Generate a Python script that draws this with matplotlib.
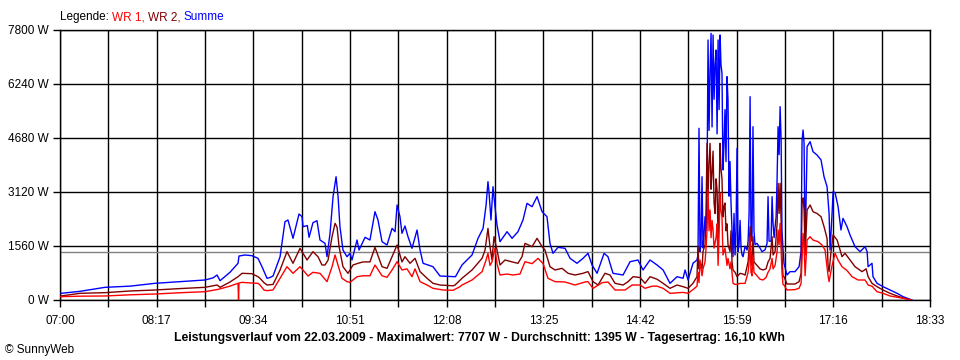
import matplotlib
matplotlib.use("Agg")
import matplotlib.pyplot as plt
import numpy as np

# Zeit in Minuten ab 07:00, Leistung in W
summe = [
    (0.8, 193), (15.9, 250), (35.8, 366), (55.8, 400), (75.7, 482), (95.6, 530),
    (115.5, 578), (122.0, 640), (125.1, 722), (127.5, 558), (135.4, 800), (141.8, 1060),
    (142.6, 1271), (147.4, 1300), (152.9, 1280), (157.7, 1204), (160.9, 962), (164.9, 627),
    (167.3, 650), (169.7, 693), (175.3, 1251), (179.2, 2262), (181.6, 2311), (185.6, 1782),
    (190.4, 2484), (192.8, 2407), (193.6, 2118), (197.0, 2150), (198.4, 1811), (201.5, 2233),
    (204.7, 2291), (207.1, 1733), (211.1, 1637), (212.7, 1251), (215.1, 1926), (217.5, 2985),
    (219.9, 3562), (221.5, 2985), (223.0, 2118), (225.4, 1444), (228.6, 1251), (231.0, 1349),
    (232.6, 1156), (236.6, 1733), (238.2, 1444), (243.0, 1811), (246.9, 1733), (250.9, 2551),
    (253.3, 2311), (256.5, 1685), (260.5, 1589), (264.5, 2070), (266.9, 1973), (268.5, 2745),
    (270.8, 2407), (272.4, 1926), (274.8, 2138), (277.2, 1829), (280.4, 1493), (284.4, 2022),
    (286.8, 1444), (289.2, 1060), (297.1, 962), (302.7, 693), (315.0, 673), (320.2, 1011),
    (328.2, 1300), (333.0, 1782), (337.0, 2070), (339.4, 2745), (340.9, 3418), (341.7, 3129),
    (343.3, 2311), (344.9, 3273), (346.5, 2696), (348.1, 2167), (350.5, 1685), (356.1, 1973),
    (360.1, 1782), (364.8, 1973), (368.8, 2311), (372.0, 2793), (376.0, 2696), (380.0, 2985),
    (384.0, 2551), (387.9, 2407), (390.3, 1637), (392.7, 1349), (396.7, 1522), (402.3, 1493),
    (406.3, 1204), (411.8, 1060), (416.6, 1204), (420.6, 1349), (423.8, 1011), (427.8, 771),
    (433.4, 1349), (436.5, 1251), (440.5, 771), (448.5, 722), (454.1, 1107), (460.4, 1156),
    (464.4, 867), (470.0, 1156), (475.6, 1011), (480.4, 867), (485.9, 482), (491.5, 673),
    (496.3, 627), (497.9, 867), (500.3, 578), (504.2, 1060), (507.4, 1156), (508.2, 1300),
    (509.0, 4960), (509.8, 1400), (510.6, 1600), (511.4, 3562), (512.2, 1500), (513.0, 1900),
    (513.8, 2407), (514.6, 2000), (515.4, 3273), (516.2, 7511), (517.0, 4900), (517.8, 6600),
    (518.6, 7704), (519.4, 5000), (520.2, 7656), (521.0, 5800), (521.8, 6800), (522.6, 7222),
    (523.4, 4800), (524.2, 7511), (525.0, 5500), (525.8, 7656), (526.5, 6800), (527.3, 6549),
    (528.1, 3756), (528.9, 4500), (529.7, 5500), (530.5, 4000), (531.3, 6452), (532.1, 5778),
    (532.9, 3000), (533.7, 4000), (534.5, 2793), (535.3, 2000), (536.1, 1251), (536.9, 2500),
    (537.7, 1300), (538.5, 2000), (539.3, 4382), (540.1, 1400), (540.9, 1600), (541.7, 2300),
    (542.5, 1500), (543.3, 1300), (544.1, 1251), (545.7, 1550), (547.3, 1444), (548.1, 1700),
    (548.9, 2500), (549.7, 5874), (550.4, 1800), (551.2, 1700), (552.0, 5007), (552.8, 2000),
    (553.6, 1600), (555.2, 1637), (557.6, 1500), (559.2, 1396), (561.6, 1450), (563.2, 1637),
    (564.0, 2985), (564.8, 1700), (566.4, 1700), (567.2, 2985), (568.0, 2200), (568.8, 1800),
    (570.4, 2400), (571.2, 3500), (572.0, 5007), (572.8, 4200), (573.6, 5585), (574.4, 4622),
    (575.1, 2000), (575.9, 1500), (576.7, 1060), (579.1, 722), (581.5, 819), (585.5, 819),
    (588.7, 962), (590.3, 1400), (591.1, 4622), (591.9, 4911), (592.7, 4526), (593.5, 1400),
    (595.1, 4430), (597.5, 4574), (599.8, 4285), (603.0, 4189), (606.2, 4045), (608.6, 3562),
    (611.0, 3273), (612.6, 2504), (613.4, 1444), (615.0, 2504), (615.8, 3129), (617.4, 3100),
    (619.8, 2696), (622.1, 2022), (623.7, 2360), (626.9, 2118), (629.3, 1878), (633.3, 1541),
    (637.3, 1396), (641.3, 1541), (642.9, 1396), (643.7, 962), (646.8, 1060), (647.6, 673),
    (650.8, 482), (655.6, 385), (661.2, 289), (666.8, 193), (671.5, 96), (677.1, 20),
    (678.7, 0),
]

wr2 = [
    (0.8, 116), (15.9, 193), (35.8, 212), (55.8, 260), (75.7, 289), (95.6, 330),
    (115.5, 366), (125.1, 433), (127.5, 366), (135.4, 520), (141.8, 673), (145.0, 771),
    (152.9, 760), (157.7, 673), (159.3, 627), (162.5, 500), (164.9, 433), (169.7, 450),
    (175.3, 867), (180.8, 1396), (185.6, 1060), (191.2, 1493), (196.8, 1156), (201.5, 1396),
    (205.5, 1250), (208.7, 1011), (211.1, 1011), (213.5, 1150), (216.7, 1829), (219.1, 2215),
    (220.7, 2100), (222.3, 1541), (225.4, 962), (229.4, 771), (233.4, 1011), (237.4, 1060),
    (241.4, 1100), (246.9, 1100), (250.9, 1522), (256.5, 962), (260.5, 915), (264.5, 1251),
    (268.5, 1589), (272.4, 1100), (274.8, 1250), (278.8, 1060), (282.8, 1204), (286.8, 819),
    (292.4, 627), (297.1, 482), (302.7, 433), (313.1, 410), (314.7, 433), (320.2, 627),
    (328.2, 867), (336.2, 1204), (338.6, 1444), (340.9, 2070), (342.5, 1540), (344.1, 1156),
    (345.7, 1829), (348.1, 1444), (350.5, 1011), (354.5, 1156), (360.1, 1100), (364.8, 1060),
    (368.0, 1250), (370.4, 1637), (376.0, 1540), (380.0, 1782), (384.0, 1540), (386.3, 1444),
    (390.3, 962), (394.3, 867), (399.9, 915), (404.7, 771), (410.2, 722), (416.6, 771),
    (420.6, 820), (424.6, 530), (428.6, 433), (434.1, 771), (438.1, 722), (442.1, 482),
    (448.5, 433), (452.5, 530), (456.5, 673), (462.0, 650), (466.0, 482), (470.0, 673),
    (475.6, 600), (480.4, 482), (485.9, 337), (491.5, 433), (496.3, 385), (500.3, 337),
    (504.2, 482), (507.4, 673), (508.2, 1541), (509.0, 900), (509.8, 1100), (511.4, 900),
    (512.2, 1400), (513.8, 1600), (514.6, 2500), (515.4, 4526), (516.2, 3000), (517.0, 4000),
    (517.8, 4526), (518.6, 3200), (519.4, 3700), (520.2, 4300), (521.0, 2800), (521.8, 2500),
    (522.6, 3500), (523.4, 3178), (524.2, 1800), (525.0, 3000), (525.8, 4526), (526.5, 3800),
    (527.3, 3500), (528.1, 2400), (528.9, 2700), (529.7, 2800), (530.5, 2000), (531.3, 2200),
    (532.1, 1600), (533.7, 1400), (534.5, 2000), (535.3, 1100), (536.1, 867), (537.7, 800),
    (539.3, 673), (541.7, 770), (544.1, 750), (545.7, 720), (548.1, 1100), (548.9, 1500),
    (549.7, 2118), (550.4, 1100), (551.2, 1000), (552.0, 1830), (552.8, 1100), (555.2, 1000),
    (557.6, 900), (560.0, 867), (562.4, 900), (564.0, 1100), (565.6, 1200), (567.2, 1829),
    (568.0, 1300), (569.6, 1400), (571.2, 2200), (572.0, 3370), (572.8, 2500), (573.6, 3370),
    (574.4, 2200), (575.1, 1300), (575.9, 700), (576.7, 673), (579.1, 462), (585.5, 462),
    (588.7, 530), (590.3, 770), (591.1, 2889), (591.9, 2950), (592.7, 2600), (593.5, 1300),
    (595.1, 2600), (597.5, 2745), (599.8, 2551), (603.0, 2500), (606.2, 2407), (608.6, 2118),
    (611.0, 1782), (611.8, 1000), (612.6, 819), (614.2, 1400), (615.8, 1878), (619.0, 1733),
    (620.6, 1540), (622.9, 1251), (625.3, 1350), (629.3, 1156), (633.3, 962), (638.9, 819),
    (642.1, 900), (643.7, 673), (646.8, 482), (650.8, 385), (655.6, 289), (661.2, 193),
    (666.8, 116), (671.5, 60), (675.5, 20), (677.9, 0),
]

wr1 = [
    (0.8, 96), (15.9, 110), (35.8, 116), (55.8, 150), (75.7, 173), (95.6, 210),
    (115.5, 240), (126.0, 308), (135.4, 400), (141.8, 482), (142.2, 0), (142.6, 490),
    (145.0, 510), (152.9, 490), (157.7, 482), (159.3, 433), (162.5, 289), (164.9, 270),
    (169.7, 290), (175.3, 627), (180.8, 962), (185.6, 771), (191.2, 962), (197.6, 693),
    (201.5, 800), (207.1, 770), (212.7, 530), (216.7, 962), (219.1, 1300), (221.5, 1000),
    (224.6, 627), (228.6, 530), (231.0, 510), (236.6, 673), (241.4, 700), (246.9, 700),
    (250.9, 1011), (256.5, 700), (260.5, 655), (264.5, 867), (268.5, 1107), (272.4, 867),
    (276.4, 900), (280.4, 673), (282.8, 900), (286.8, 530), (292.4, 433), (297.1, 337),
    (305.1, 289), (313.1, 280), (318.6, 385), (320.2, 433), (328.2, 578), (336.2, 819),
    (339.4, 1156), (340.9, 1349), (342.5, 1000), (344.1, 1100), (346.5, 1493), (348.1, 1050),
    (350.5, 722), (356.1, 750), (360.9, 722), (366.4, 750), (370.4, 1107), (376.0, 1050),
    (380.8, 1204), (384.8, 1050), (388.7, 627), (394.3, 530), (402.3, 520), (410.2, 433),
    (418.2, 520), (420.6, 530), (424.6, 337), (431.8, 500), (436.5, 520), (442.1, 289),
    (450.1, 289), (455.7, 433), (462.0, 433), (466.0, 337), (471.6, 400), (475.6, 400),
    (480.4, 337), (485.9, 193), (496.3, 220), (500.3, 193), (504.2, 300), (507.4, 400),
    (508.2, 800), (509.0, 500), (509.8, 1156), (511.4, 700), (512.2, 900), (513.8, 1100),
    (514.6, 1500), (515.4, 2022), (516.2, 3178), (517.0, 2000), (517.8, 2600), (518.6, 1800),
    (519.4, 2300), (520.2, 2022), (521.0, 1500), (522.6, 1800), (523.4, 2200), (524.2, 1000),
    (525.0, 1900), (525.8, 3082), (526.5, 2600), (527.3, 2400), (528.1, 1300), (529.7, 1500),
    (531.3, 1000), (532.1, 1200), (533.7, 900), (534.5, 1100), (536.1, 482), (537.7, 450),
    (539.3, 450), (541.7, 480), (545.7, 480), (548.1, 800), (548.9, 1100), (549.7, 1829),
    (550.4, 800), (551.2, 700), (552.0, 1300), (552.8, 800), (555.2, 700), (557.6, 600),
    (560.0, 578), (562.4, 650), (564.0, 800), (565.6, 900), (567.2, 1200), (568.0, 900),
    (569.6, 1000), (571.2, 1400), (572.0, 2022), (572.8, 1600), (573.6, 2215), (574.4, 1500),
    (575.1, 800), (575.9, 450), (576.7, 433), (579.1, 289), (585.5, 300), (588.7, 340),
    (590.3, 480), (591.9, 1926), (592.7, 1600), (593.5, 700), (595.1, 1733), (597.5, 1829),
    (599.8, 1733), (603.8, 1685), (607.0, 1589), (609.4, 1444), (611.8, 700), (612.6, 530),
    (615.0, 1000), (617.4, 1349), (619.8, 1150), (622.9, 962), (626.9, 850), (630.9, 673),
    (635.7, 578), (641.3, 578), (643.7, 433), (646.8, 400), (650.8, 240), (655.6, 193),
    (661.2, 116), (666.8, 80), (671.5, 50), (675.5, 20), (677.9, 0),
]

durchschnitt = 1395
y_ticks = [0, 1560, 3120, 4680, 6240, 7800]
x_labels = ["07:00", "08:17", "09:34", "10:51", "12:08", "13:25", "14:42", "15:59", "17:16", "18:33"]
t_end = 693  # 18:33 in Minuten ab 07:00

titel = ("Leistungsverlauf vom 22.03.2009 - Maximalwert: 7707 W - "
         "Durchschnitt: 1395 W - Tagesertrag: 16,10 kWh")

BLAU, DUNKELROT, ROT = "#0000FF", "#800000", "#FF0000"
plt.rcParams["font.family"] = ["Liberation Sans", "DejaVu Sans"]

fig = plt.figure(figsize=(9.6, 3.6), dpi=100)
ax = fig.add_axes([60 / 960, 1 - 300 / 360, 870 / 960, 270 / 360])

# Raster: 18 Felder, Beschriftung an jeder zweiten Linie
x_grid = np.linspace(0, t_end, 19)
for xg in x_grid:
    ax.axvline(xg, color="black", lw=1, zorder=1)
for yg in y_ticks:
    ax.axhline(yg, color="black", lw=1, zorder=1)
ax.axhline(durchschnitt, color="#808080", lw=1, zorder=2)

for pts, col in [(summe, BLAU), (wr2, DUNKELROT), (wr1, ROT)]:
    t, p = zip(*pts)
    ax.plot(t, p, color=col, lw=1, zorder=3)

ax.set_xlim(0, t_end)
ax.set_ylim(0, 7800)
ax.set_xticks(x_grid, minor=True)
ax.set_xticks(x_grid[::2])
ax.set_xticklabels(x_labels)
ax.set_yticks(y_ticks)
ax.set_yticklabels([f"{v} W" for v in y_ticks])
ax.tick_params(axis="both", which="both", direction="out", length=5, width=1,
               labelsize=8.5, colors="black")
ax.tick_params(axis="x", which="major", pad=6)
ax.tick_params(axis="y", pad=3)
for s in ax.spines.values():
    s.set_linewidth(1)

# Legende oben links
tx = fig.text(60 / 960, 1 - 17 / 360, "Legende: ", fontsize=8.5, color="black", va="center")
for txt, col in [("WR 1, ", ROT), ("WR 2, ", DUNKELROT), ("Summe", BLAU)]:
    tx = ax.annotate(txt, xy=(1, 0.5), xycoords=tx, va="center", ha="left",
                     fontsize=8.5, color=col, annotation_clip=False)

fig.text(479 / 960, 1 - 338 / 360, titel, ha="center", va="center",
         fontsize=8.8, fontweight="bold")
fig.text(5 / 960, 1 - 350 / 360, "© SunnyWeb", ha="left", va="center", fontsize=8.5)

fig.savefig("out.png", dpi=100)
